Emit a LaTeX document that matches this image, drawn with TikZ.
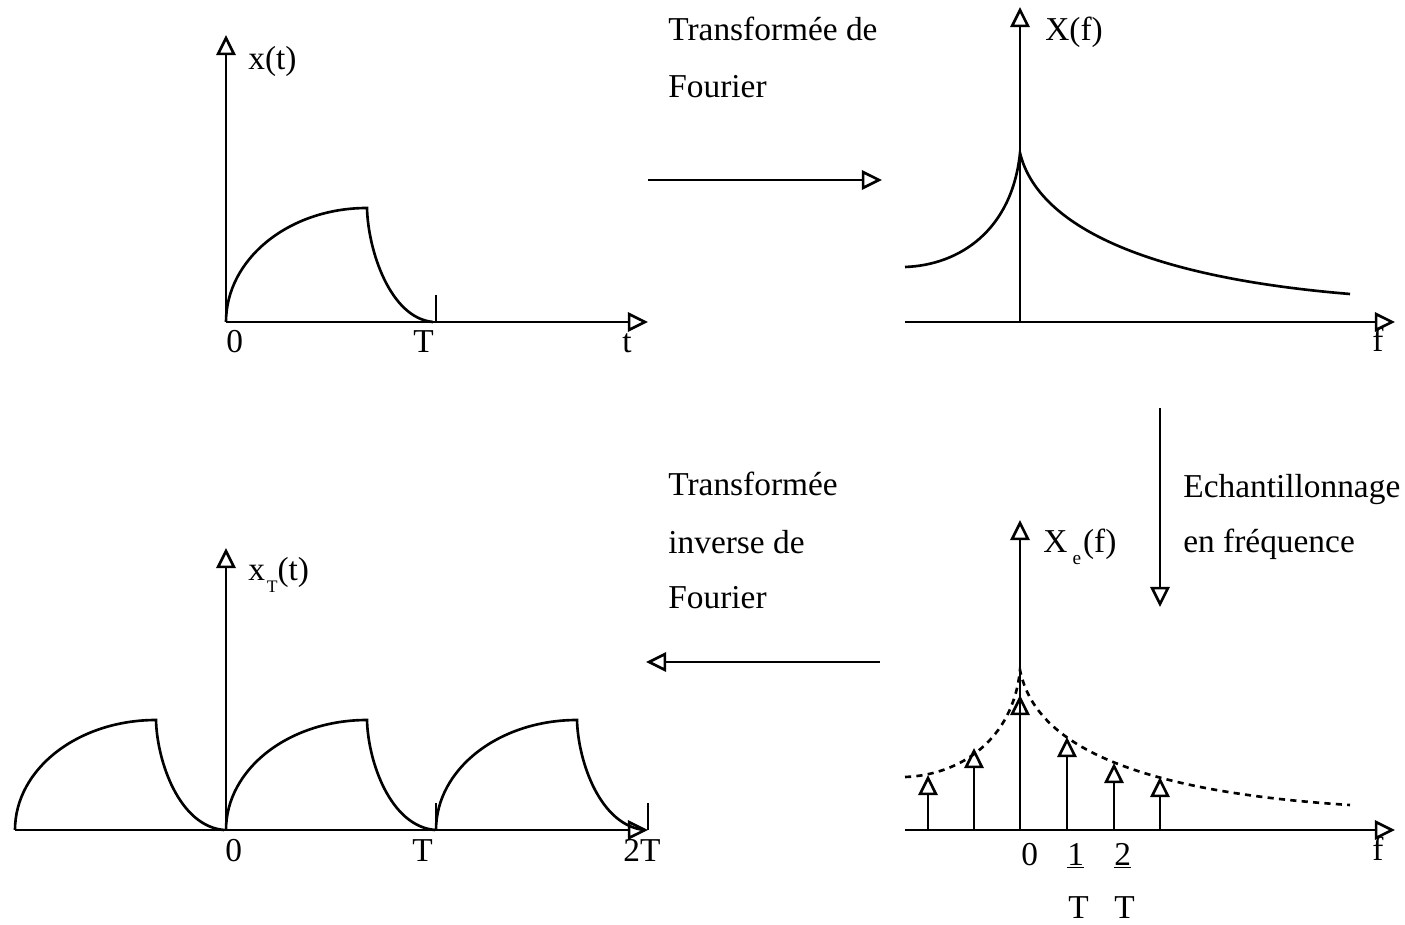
\documentclass[tikz,border=0pt]{standalone}
\usepackage{fontspec}
\setmainfont{Liberation Serif}
\usetikzlibrary{arrows.meta}

\begin{document}
\begin{tikzpicture}[x=0.02cm, y=-0.02cm,
  trait/.style={line width=1.5pt},
  axe/.style={trait, -{Triangle[open, length=11.5pt, width=11pt]}},
  lbl/.style={anchor=base west, inner sep=0pt, font=\fontsize{19}{23}\selectfont},
]
\useasboundingbox (0,0) rectangle (1405,925);

% signal x(t)
\draw[axe] (226,322) -- (648,322);
\draw[axe] (226,322) -- (226,35);
\draw[trait] (436,295) -- (436,322);
\draw[trait] (226,322) .. controls (226,259) and (289,208) .. (367,208)
  .. controls (368,250) and (390,318) .. (433,322);
\node[lbl] (xt) at (248,70) {x(t)};
\node[lbl] (z1) at (226,353) {0};
\node[lbl] (T1) at (413,353) {T};
\node[lbl] (t1) at (622,353) {t};

% spectre X(f)
\draw[axe] (905,322) -- (1395,322);
\draw[axe] (1020,322) -- (1020,7);
\draw[trait] (905,267) .. controls (960,265) and (1012,230) .. (1020,153)
  .. controls (1035,215) and (1120,275) .. (1350,294);
\node[lbl] (Xf) at (1045,41) {X(f)};
\node[lbl] (f1) at (1372,352) {f};

% transformee de Fourier
\coordinate (tfA) at (648,180);
\coordinate (tfB) at (882,180);
\draw[axe] (tfA) -- (tfB);
\node[lbl] (tf1) at (668,41) {Transformée de};
\node[lbl] (tf2) at (668,98) {Fourier};

% echantillonnage
\coordinate (echA) at (1160,408);
\coordinate (echB) at (1160,607);
\draw[axe] (echA) -- (echB);
\node[lbl] (ech1) at (1183,497) {Echantillonnage};
\node[lbl] (ech2) at (1183,552) {en fréquence};

% spectre echantillonne
\draw[axe] (905,830) -- (1395,830);
\draw[axe] (1020,830) -- (1020,520);
\draw[trait, dash pattern=on 3.5pt off 3pt] (905,777) .. controls (960,775) and (1013,740) .. (1020,670)
  .. controls (1033,735) and (1110,790) .. (1350,805);
\foreach \x/\y in {928/775, 974/748, 1020/695, 1067/737, 1114/763, 1160/777}
  \draw[axe] (\x,830) -- (\x,\y);
\node[lbl] (Xe) at (1043,552) {X\hspace{3pt}\raisebox{-7pt}{\fontsize{11}{12}\selectfont e}\hspace{1pt}(f)};
\node[lbl] (f2) at (1372,860) {f};
\node[lbl] (z2) at (1021,865) {0};
\node[lbl] (un) at (1067,865) {\underline{1}};
\node[lbl] (deux) at (1114,865) {\underline{2}};
\node[lbl] (Tun) at (1068,918) {T};
\node[lbl] (Tdeux) at (1114,918) {T};

% transformee inverse
\coordinate (tiA) at (880,662);
\coordinate (tiB) at (646,662);
\draw[axe] (tiA) -- (tiB);
\node[lbl] (ti1) at (668,495) {Transformée};
\node[lbl] (ti2) at (668,553) {inverse de};
\node[lbl] (ti3) at (668,608) {Fourier};

% signal periodise xT(t)
\draw[axe] (15,830) -- (648,830);
\draw[axe] (226,830) -- (226,548);
\draw[trait] (436,803) -- (436,830);
\draw[trait] (648,803) -- (648,830);
\foreach \x in {15,226,436}
  \draw[trait] (\x,830) .. controls (\x,769) and ({\x+63},720) .. ({\x+141},720)
    .. controls ({\x+142},761) and ({\x+164},826) .. ({\x+209},830);
\node[lbl] (xT) at (248,580) {x\hspace{1pt}\raisebox{-7pt}{\fontsize{10}{12}\selectfont T}(t)};
\node[lbl] (z3) at (225,861) {0};
\node[lbl] (T3) at (412,861) {T};
\node[lbl] (T4) at (623,861) {2T};

\end{tikzpicture}
\end{document}
